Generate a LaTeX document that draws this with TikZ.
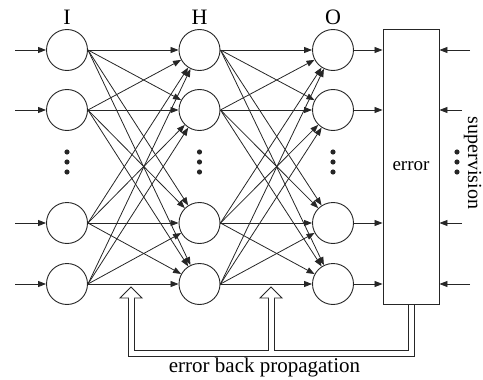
\documentclass[tikz,border=0pt]{standalone}
\usepackage{fontspec}
\setmainfont{Liberation Serif}
\usetikzlibrary{arrows.meta}
\colorlet{ln}{black!85}
\begin{document}
\begin{tikzpicture}[x=1pt,y=-1pt,
  neuron/.style={circle,draw=ln,line width=0.9pt,minimum size=41pt,inner sep=0pt},
  conn/.style={draw=ln,line width=0.8pt,-{Triangle[length=8pt,width=6pt]}},
  lbl/.style={font=\fontsize{22}{24}\selectfont,anchor=base,inner sep=0pt},
  bpout/.style={draw=ln,line width=7pt,line cap=butt,line join=miter},
  bpin/.style={draw=white,line width=5pt,line cap=butt,line join=miter}]
\useasboundingbox (0,0) rectangle (483,380);
% layers
\foreach \n/\y in {1/50,2/110,3/223,4/284} {
  \node[neuron] (i\n) at (67,\y) {};
  \node[neuron] (h\n) at (199.5,\y) {};
  \node[neuron] (o\n) at (333,\y) {};
}
\node[lbl] (lI) at (67,24) {I};
\node[lbl] (lH) at (199.5,24) {H};
\node[lbl] (lO) at (333,24) {O};
% error box
\node[draw=ln,line width=0.9pt,minimum width=56pt,minimum height=275pt,inner sep=0pt,
      font=\fontsize{19}{22}\selectfont] (err) at (411,166.5) {error};
% connections
\foreach \a in {1,...,4} {
  \foreach \b in {1,...,4} {
    \draw[conn] (i\a.east) -- (h\b);
    \draw[conn] (h\a.east) -- (o\b);
  }
}
% inputs, outputs, supervision
\foreach \n/\y/\s in {1/50/470,2/110/462,3/223/462,4/284/470} {
  \coordinate (x\n) at (15,\y);
  \coordinate (s\n) at (\s,\y);
  \draw[conn] (x\n) -- (i\n);
  \draw[conn] (o\n.east) -- (err.west |- o\n);
  \draw[conn] (s\n) -- (err.east |- s\n);
}
% dots
\foreach \x in {67,199.5,333,457} {
  \foreach \y in {152,162,172} {
    \fill[ln] (\x,\y) circle (2.6pt);
  }
}
\node[font=\fontsize{20}{22}\selectfont,rotate=-90,inner sep=0pt] (sup) at (472.5,163) {supervision};
% back propagation
\coordinate (bpL) at (131,298);
\coordinate (bpLc) at (131,353.5);
\coordinate (bpM) at (271,298);
\coordinate (bpMc) at (271,353.5);
\coordinate (bpRc) at (411,353.5);
\draw[bpout] (bpL) -- (bpLc) -- (bpRc) -- (err.south);
\draw[bpout] (bpM) -- (bpMc);
\foreach \c in {bpL,bpM} {
  \filldraw[fill=white,draw=ln,line width=0.9pt,line join=miter] (\c) ++(-11,0) -- ++(11,-11) -- ++(11,11) -- cycle;
}
\draw[bpin] ([yshift=0.7pt]bpL) -- (bpLc) -- (bpRc) -- ([yshift=-0.6pt]err.south);
\draw[bpin] ([yshift=0.7pt]bpM) -- (bpMc);
\node[font=\fontsize{21}{24}\selectfont,anchor=base] (bptxt) at (264.5,372) {error back propagation};
\end{tikzpicture}
\end{document}
